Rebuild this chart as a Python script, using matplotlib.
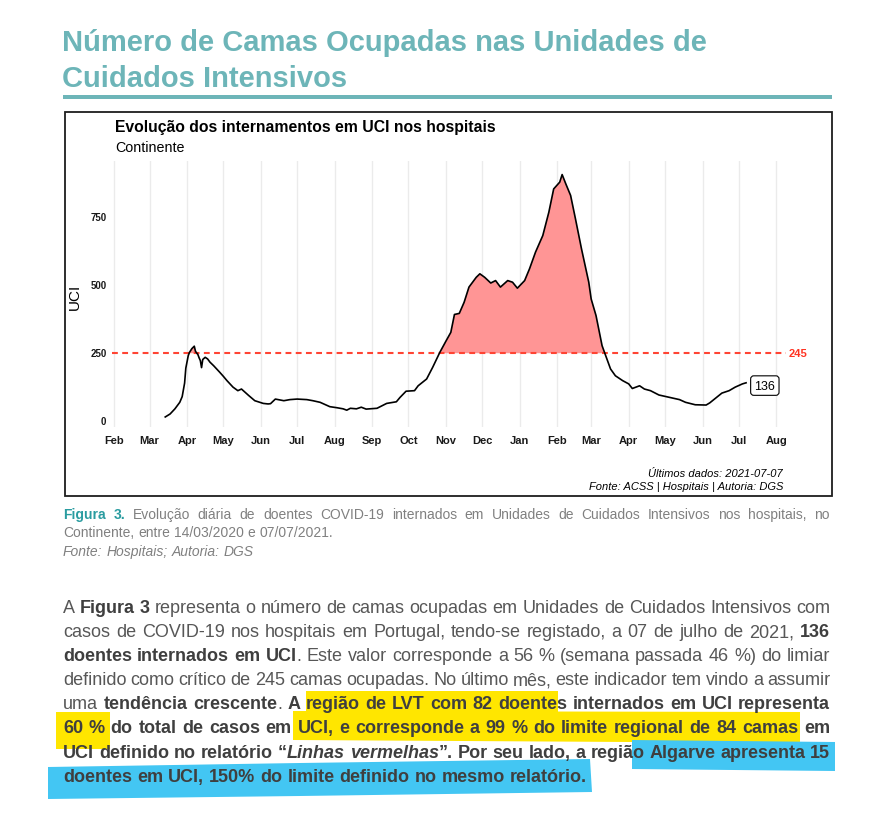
from __future__ import annotations

import matplotlib

matplotlib.use("Agg")
import matplotlib.dates as mdates
import matplotlib.pyplot as plt
import numpy as np
import pandas as pd
from matplotlib.patches import Polygon, Rectangle


FIG_W, FIG_H = 883, 829

dates = [
    "2020-03-14", "2020-03-18", "2020-03-22", "2020-03-26", "2020-03-28",
    "2020-03-30", "2020-03-31", "2020-04-02", "2020-04-03", "2020-04-05",
    "2020-04-07", "2020-04-08", "2020-04-10", "2020-04-11", "2020-04-12",
    "2020-04-13", "2020-04-14", "2020-04-16", "2020-04-18", "2020-04-20",
    "2020-04-23", "2020-04-28", "2020-05-01", "2020-05-04", "2020-05-09",
    "2020-05-13", "2020-05-16", "2020-05-22", "2020-05-27", "2020-06-03",
    "2020-06-07", "2020-06-09", "2020-06-13", "2020-06-20", "2020-06-25",
    "2020-07-01", "2020-07-09", "2020-07-14", "2020-07-20", "2020-07-28",
    "2020-08-03", "2020-08-08", "2020-08-11", "2020-08-14", "2020-08-19",
    "2020-08-23", "2020-08-27", "2020-09-05", "2020-09-13", "2020-09-21",
    "2020-09-24", "2020-09-29", "2020-10-06", "2020-10-09", "2020-10-16",
    "2020-10-21", "2020-10-27", "2020-11-01", "2020-11-05", "2020-11-08",
    "2020-11-12", "2020-11-16", "2020-11-20", "2020-11-26", "2020-11-29",
    "2020-12-03", "2020-12-08", "2020-12-12", "2020-12-16", "2020-12-22",
    "2020-12-26", "2020-12-30", "2021-01-05", "2021-01-09", "2021-01-14",
    "2021-01-20", "2021-01-25", "2021-01-29", "2021-02-03", "2021-02-05",
    "2021-02-08", "2021-02-12", "2021-02-16", "2021-02-21", "2021-02-27",
    "2021-03-01", "2021-03-05", "2021-03-10", "2021-03-13", "2021-03-17",
    "2021-03-21", "2021-03-27", "2021-04-01", "2021-04-04", "2021-04-10",
    "2021-04-14", "2021-04-19", "2021-04-26", "2021-05-04", "2021-05-13",
    "2021-05-18", "2021-05-26", "2021-06-04", "2021-06-07", "2021-06-12",
    "2021-06-17", "2021-06-23", "2021-06-28", "2021-07-04", "2021-07-07",
]
uci = [
    10, 21, 40, 64, 85,
    135, 190, 236, 248, 262,
    271, 252, 240, 228, 218,
    192, 222, 230, 224, 212,
    199, 175, 160, 144, 120,
    107, 113, 89, 70, 60,
    58, 59, 76, 70, 74,
    76, 74, 70, 64, 48,
    44, 40, 35, 42, 40,
    46, 39, 42, 60, 66,
    82, 105, 107, 125, 150,
    193, 249, 290, 322, 388,
    392, 433, 489, 525, 538,
    525, 504, 513, 489, 513,
    507, 485, 513, 556, 618,
    679, 765, 851, 876, 904,
    870, 827, 741, 630, 507,
    445, 384, 273, 236, 187,
    162, 144, 132, 115, 125,
    113, 107, 91, 83, 74,
    64, 55, 54, 62, 80,
    98, 107, 120, 132, 136,
]
threshold = 245
y_ticks = [0, 250, 500, 750]
month_starts = pd.date_range("2020-02-01", "2021-08-01", freq="MS")

title_lines = ["Número de Camas Ocupadas nas Unidades de", "Cuidados Intensivos"]
chart_title = "Evolução dos internamentos em UCI nos hospitais"
chart_subtitle = "Continente"
chart_notes = ["Últimos dados: 2021-07-07", "Fonte: ACSS | Hospitais | Autoria: DGS"]

caption_lines = [
    [("Figura 3.", "cap_b"),
     (" Evolução diária de doentes COVID-19 internados em Unidades de Cuidados Intensivos nos hospitais, no", "cap")],
    [("Continente, entre 14/03/2020 e 07/07/2021.", "cap")],
    [("Fonte: Hospitais; Autoria: DGS", "cap_i")],
]

body_lines = [
    [("A ", "n"), ("Figura 3", "b"),
     (" representa o número de camas ocupadas em Unidades de Cuidados Intensivos com", "n")],
    [("casos de COVID-19 nos hospitais em Portugal, tendo-se registado, a 07 de julho de 2021, ", "n"),
     ("136", "b")],
    [("doentes internados em UCI", "b"),
     (". Este valor corresponde a 56 % (semana passada 46 %) do limiar", "n")],
    [("definido como crítico de 245 camas ocupadas. No último mês, este indicador tem vindo a assumir", "n")],
    [("uma ", "n"), ("tendência crescente", "b"), (". ", "n"),
     ("A região de LVT com 82 doentes internados em UCI representa", "b")],
    [("60 % do total de casos em UCI, e corresponde a 99 % do limite regional de 84 camas em", "b")],
    [("UCI definido no relatório “", "b"), ("Linhas vermelhas", "bi"),
     ("”. Por seu lado, a região Algarve apresenta 15", "b")],
    [("doentes em UCI, 150% do limite definido no mesmo relatório.", "b")],
]

TEAL = "#6db5b8"
TEXT_FONT = ["Liberation Sans Narrow", "Liberation Sans", "DejaVu Sans"]
STYLES = {
    "n": ("normal", "normal", "#575757"),
    "b": ("bold", "normal", "#3f3f3f"),
    "bi": ("bold", "italic", "#3f3f3f"),
    "cap": ("normal", "normal", "#808080"),
    "cap_b": ("bold", "normal", "#2a9ca0"),
    "cap_i": ("normal", "italic", "#808080"),
}


def fx(x):
    return x / FIG_W


def fy(y):
    return 1 - y / FIG_H


def split_words(runs):
    words = [[]]
    for text, style in runs:
        for index, part in enumerate(text.split(" ")):
            if index:
                words.append([])
            if part:
                words[-1].append((part, style))
    return [word for word in words if word]


def set_line(fig, renderer, runs, baseline, x0, x1, size, justify):
    words = split_words(runs)
    placed = []
    widths = []
    for word in words:
        pieces = []
        width = 0.0
        for text, style in word:
            weight, slant, color = STYLES[style]
            label = fig.text(0, fy(baseline), text, fontsize=size, fontweight=weight,
                             fontstyle=slant, color=color, family=TEXT_FONT,
                             ha="left", va="baseline", zorder=5)
            pieces.append((label, width))
            width += label.get_window_extent(renderer).width
        placed.append(pieces)
        widths.append(width)

    probe_a = fig.text(0, 0, "a a", fontsize=size, family=TEXT_FONT)
    probe_b = fig.text(0, 0, "aa", fontsize=size, family=TEXT_FONT)
    space = (probe_a.get_window_extent(renderer).width
             - probe_b.get_window_extent(renderer).width)
    probe_a.remove()
    probe_b.remove()

    gap = space
    if justify and len(words) > 1:
        gap = (x1 - x0 - sum(widths)) / (len(words) - 1)
    x = x0
    for pieces, width in zip(placed, widths):
        for label, offset in pieces:
            label.set_x(fx(x + offset))
        x += width + gap


def pixel_rect(fig, x0, y0, x1, y1, **kwargs):
    fig.add_artist(Rectangle((fx(x0), fy(y1)), fx(x1) - fx(x0), fy(y0) - fy(y1),
                             transform=fig.transFigure, **kwargs))


def pixel_poly(fig, points, **kwargs):
    fig.add_artist(Polygon([(fx(x), fy(y)) for x, y in points], closed=True,
                           transform=fig.transFigure, **kwargs))


def draw_chart(fig):
    x = pd.to_datetime(dates)
    y = np.array(uci, dtype=float)

    left, right, top, bottom = 112, 786, 162, 428
    ax = fig.add_axes([fx(left), fy(bottom), fx(right) - fx(left), fy(top) - fy(bottom)])
    ax.set_xlim(pd.Timestamp("2020-01-30"), pd.Timestamp("2021-08-09"))
    ax.set_ylim(-27, 954)

    ax.fill_between(x, y, threshold, where=y > threshold, interpolate=True,
                    color="#ff9595", lw=0, zorder=2)
    ax.plot(x, y, color="black", lw=1.2, zorder=4)
    ax.axhline(threshold, color="#ff4433", lw=1.5, ls=(0, (2.8, 2.1)), zorder=3)
    ax.annotate(str(threshold), xy=(1.004, threshold), xycoords=("axes fraction", "data"),
                ha="left", va="center", color="#ff3322", fontsize=8,
                fontweight="bold", annotation_clip=False)
    ax.annotate(str(uci[-1]), xy=(x[-1], y[-1]), xytext=(6, -2),
                textcoords="offset points", ha="left", va="center", fontsize=9,
                bbox=dict(boxstyle="round,pad=0.3,rounding_size=0.25",
                          fc="white", ec="black", lw=0.8), zorder=6)

    ax.set_xticks(month_starts)
    ax.xaxis.set_major_formatter(mdates.DateFormatter("%b"))
    ax.set_yticks(y_ticks)
    ax.tick_params(axis="x", length=0, pad=6, labelsize=8)
    ax.tick_params(axis="y", length=0, pad=4, labelsize=7)
    for label in ax.get_xticklabels() + ax.get_yticklabels():
        label.set_fontweight("bold")
        label.set_color("#1a1a1a")
    ax.grid(axis="x", color="#ebebeb", lw=1.0, zorder=0)
    ax.grid(axis="y", visible=False)
    for spine in ax.spines.values():
        spine.set_visible(False)
    ax.set_facecolor("none")

    fig.text(fx(75), fy(297), "UCI", rotation=90, ha="center", va="center", fontsize=11)
    fig.text(fx(115), fy(132), chart_title, ha="left", va="baseline",
             fontsize=11.3, fontweight="bold")
    fig.text(fx(115), fy(152), chart_subtitle, ha="left", va="baseline", fontsize=10.3)
    for row, note in enumerate(chart_notes):
        fig.text(fx(783), fy(477 + 13 * row), note, ha="right", va="baseline",
                 fontsize=8, fontstyle="italic")
    pixel_rect(fig, 65, 113, 832, 497, fill=False, ec="#1e1e1e", lw=1.3)


def main() -> None:
    plt.rcParams["font.family"] = ["Liberation Sans", "DejaVu Sans"]
    fig = plt.figure(figsize=(FIG_W / 100, FIG_H / 100), dpi=100)
    renderer = fig.canvas.get_renderer()

    for row, line in enumerate(title_lines):
        fig.text(fx(62), fy(51 + 36 * row), line, ha="left", va="baseline",
                 fontsize=21, fontweight="bold", color=TEAL, family=TEXT_FONT)
    pixel_rect(fig, 63, 96, 832, 100, color=TEAL, lw=0)

    draw_chart(fig)

    for row, runs in enumerate(caption_lines):
        set_line(fig, renderer, runs, 519 + 18.5 * row, 63, 830, 10, justify=row == 0)

    # hand-drawn marker highlights
    yellow = "#ffe600"
    blue = "#43c6f3"
    pixel_rect(fig, 306, 692, 558, 718, color=yellow, lw=0, zorder=1)
    pixel_rect(fig, 56, 713, 110, 750, color=yellow, lw=0, zorder=1)
    pixel_poly(fig, [(293, 712), (800, 713), (800, 744), (293, 741)], color=yellow, lw=0, zorder=1)
    pixel_poly(fig, [(632, 741), (835, 743), (835, 772), (632, 770)], color=blue, lw=0, zorder=1)
    pixel_poly(fig, [(48, 768), (300, 764), (590, 760), (592, 793), (300, 797), (48, 800)],
               color=blue, lw=0, zorder=1)

    for row, runs in enumerate(body_lines):
        set_line(fig, renderer, runs, 613 + 24.1 * row, 63, 830, 13,
                 justify=row < len(body_lines) - 1)

    fig.savefig("out.png", dpi=100, facecolor="white")
    plt.close(fig)


if __name__ == "__main__":
    main()
